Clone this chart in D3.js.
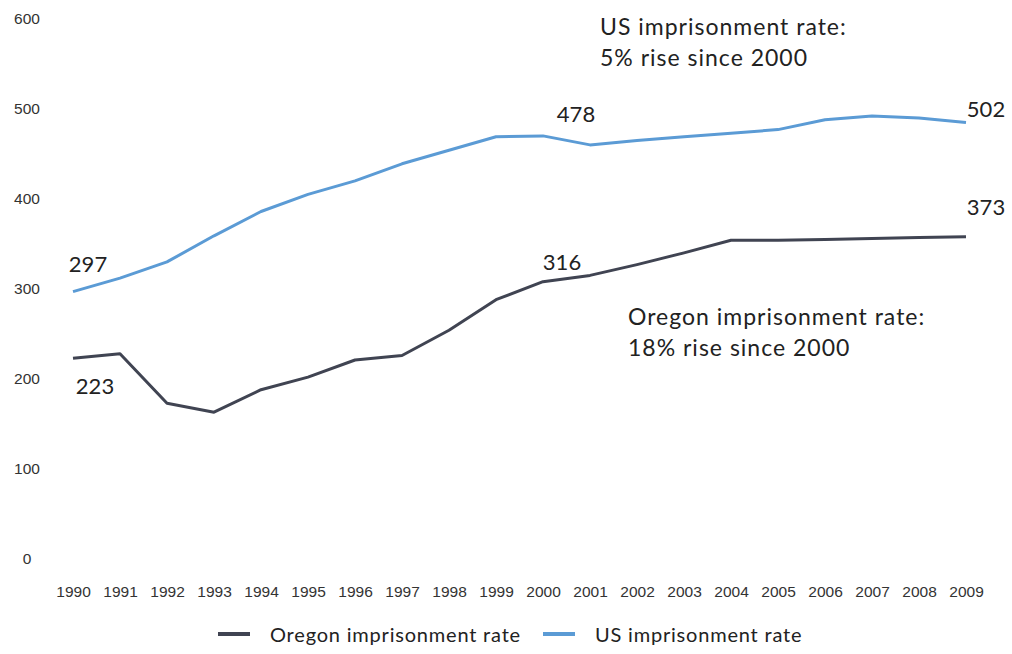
<!DOCTYPE html>
<html>
<head>
<meta charset="utf-8">
<script src="https://cdn.jsdelivr.net/npm/d3@7"></script>
<style>
  body { margin: 0; background: #fff; }
  svg { display: block; font-family: Lato, Carlito, "Open Sans", sans-serif; }
  .tick text { fill: #333; font-size: 15.5px; }
</style>
</head>
<body>
<svg id="chart" width="1012" height="654"></svg>
<script>
// data
const years = [1990, 1991, 1992, 1993, 1994, 1995, 1996, 1997, 1998, 1999,
               2000, 2001, 2002, 2003, 2004, 2005, 2006, 2007, 2008, 2009];
const usRate = [296, 311, 329, 358, 385, 404, 419, 438, 453, 468,
                469, 459, 464, 468, 472, 476, 487, 491, 489, 484];
const oregonRate = [222, 227, 172, 162, 187, 201, 220, 225, 253, 287,
                    307, 314, 326, 339, 353, 353, 354, 355, 356, 357];
const yTicks = [0, 100, 200, 300, 400, 500, 600];
const seriesNames = ['Oregon imprisonment rate', 'US imprisonment rate'];
// point labels: [year, series, text]
const pointLabels = [
  [1990, 'us', '297'], [2000, 'us', '478'], [2009, 'us', '502'],
  [1990, 'or', '223'], [2000, 'or', '316'], [2009, 'or', '373'],
];
const noteUS = ['US imprisonment rate:', '5% rise since 2000'];
const noteOR = ['Oregon imprisonment rate:', '18% rise since 2000'];

const W = 1012, H = 654;
const margin = {top: 18, right: 46, bottom: 96, left: 73};
const colors = {or: '#404452', us: '#5b9bd5'};

const svg = d3.select('#chart');
const g = svg.append('g').attr('transform', `translate(${margin.left},${margin.top})`);
const width = W - margin.left - margin.right;
const height = H - margin.top - margin.bottom;

const x = d3.scalePoint().domain(years).range([0, width]);
const y = d3.scaleLinear().domain([0, 600]).range([height, 0]);

// y labels (no axis line)
const yAxis = g.append('g')
  .attr('transform', `translate(${-46},0)`)
  .call(d3.axisLeft(y).tickValues(yTicks).tickSize(0).tickPadding(0));
yAxis.select('.domain').remove();
yAxis.selectAll('.tick text').attr('text-anchor', 'middle').attr('dy', '0.35em');

const xAxis = g.append('g')
  .attr('transform', `translate(0,${height})`)
  .call(d3.axisBottom(x).tickSize(0).tickPadding(28));
xAxis.select('.domain').remove();

const line = d3.line().x((d, i) => x(years[i])).y(d => y(d));

g.append('path').datum(usRate)
  .attr('fill', 'none').attr('stroke', colors.us)
  .attr('stroke-width', 3).attr('stroke-linejoin', 'round')
  .attr('d', line);
g.append('path').datum(oregonRate)
  .attr('fill', 'none').attr('stroke', colors.or)
  .attr('stroke-width', 3).attr('stroke-linejoin', 'round')
  .attr('d', line);

// value labels
const offsets = {
  'us1990': [15, -27], 'us2000': [33, -22], 'us2009': [20, -13],
  'or1990': [22, 28], 'or2000': [19, -19], 'or2009': [20, -29],
};
g.selectAll('.plabel').data(pointLabels).enter().append('text')
  .attr('class', 'plabel')
  .attr('x', d => x(d[0]) + offsets[d[1] + d[0]][0])
  .attr('y', d => y((d[1] === 'us' ? usRate : oregonRate)[years.indexOf(d[0])]) + offsets[d[1] + d[0]][1])
  .attr('text-anchor', 'middle').attr('dy', '0.35em')
  .attr('fill', '#222').style('font-size', '22px')
  .text(d => d[2]);

// notes
function note(lines, xv, yv, dx, dy) {
  const t = g.append('text')
    .attr('fill', '#222').style('font-size', '23px').style('letter-spacing', '1px');
  lines.forEach((s, i) => {
    t.append('tspan').attr('x', x(xv) + dx).attr('y', y(yv) + dy + i * 31).text(s);
  });
}
note(noteUS, 2001, 600, 10, 17);
note(noteOR, 2002, 300, -9, 37);

// legend
const leg = svg.append('g').attr('transform', `translate(0,${H - 18})`);
const legItems = [[218, 'or'], [543, 'us']];
legItems.forEach(([lx, key], i) => {
  leg.append('line').attr('x1', lx).attr('x2', lx + 32).attr('y1', -2).attr('y2', -2)
    .attr('stroke', colors[key]).attr('stroke-width', 4);
  leg.append('text').attr('x', lx + 52).attr('y', 0).attr('dy', '0.3em')
    .attr('fill', '#222').style('font-size', '20px').style('letter-spacing', '0.8px')
    .text(seriesNames[i]);
});
</script>
</body>
</html>
